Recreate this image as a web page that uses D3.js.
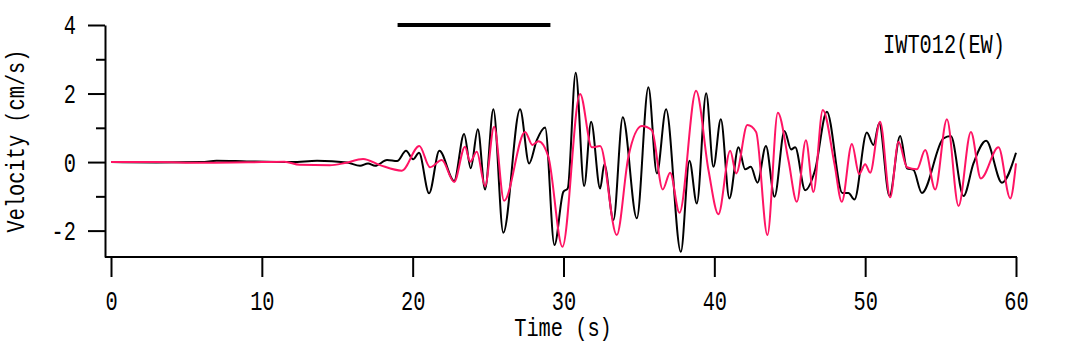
<!DOCTYPE html>
<html>
<head>
<meta charset="utf-8">
<script src="https://cdn.jsdelivr.net/npm/d3@7"></script>
<style>
  body { margin: 0; background: #fff; }
  .lbl { font-family: "Liberation Mono", "DejaVu Sans Mono", monospace; font-size: 28px; fill: #000; }
  .ttl { font-size: 25px; }
</style>
</head>
<body>
<div id="vis"></div>
<script>

// observed velocity (black)
var timeBlack = [0, 3, 6, 7, 9, 12, 13.66, 15.65, 16.51, 17.04, 17.51, 18.3, 18.97, 19.56, 20.03, 20.42, 21.09, 21.77, 22.75, 23.41, 23.85, 24.32, 24.8, 25.35, 26.01, 27.12, 27.72, 28.23, 28.78, 29.4, 29.99, 30.28, 30.81, 31.37, 31.83, 32.43, 32.71, 33.31, 33.93, 34.86, 35.63, 36.19, 36.8, 37.78, 38.35, 38.84, 39.46, 39.94, 40.43, 41.0, 41.6, 42.04, 42.42, 42.86, 43.42, 43.99, 44.65, 45.09, 45.36, 46.02, 46.68, 47.46, 48.49, 48.89, 49.29, 50.11, 50.55, 50.93, 51.61, 52.32, 52.77, 53.2, 53.76, 55.19, 55.68, 56.52, 57.18, 58.02, 59.07, 60];
var valBlack = [0, -0.01, 0.0, 0.04, 0.02, 0.0, 0.04, -0.01, -0.11, -0.04, -0.11, 0.06, 0.03, 0.33, 0.08, 0.27, -0.91, 0.33, -0.55, 0.82, -0.18, 0.96, -0.8, 1.54, -2.06, 1.54, -0.04, 0.64, 1.01, -2.42, -0.87, -0.77, 2.61, -0.7, 1.18, -0.77, -0.06, -1.69, 1.31, -1.64, 2.18, -0.33, 1.54, -2.62, 0.04, -1.21, 2.01, -0.14, 1.25, -1.06, 0.43, -0.21, -0.14, -0.6, 0.47, -1.01, 0.91, 0.37, 0.43, -0.82, -0.23, 1.47, -0.9, -0.9, -1.09, 0.86, 0.5, 1.13, -0.99, 0.76, -0.18, -0.23, -0.9, 0.69, 0.76, -0.99, -0.04, 0.62, -0.6, 0.27];

// synthetic velocity (pink)
var timePink = [0, 3, 6, 10, 11.5, 12.5, 14.5, 15.5, 16.71, 17.84, 19.28, 20.44, 21.15, 21.93, 22.75, 23.47, 23.81, 24.25, 24.8, 25.4, 26.06, 27.45, 27.94, 28.34, 29.0, 29.93, 31.1, 31.88, 32.43, 33.53, 34.3, 35.19, 35.86, 36.58, 37.07, 37.69, 38.79, 39.61, 40.27, 41.05, 41.45, 42.19, 42.77, 43.52, 44.21, 44.91, 45.47, 46.07, 46.57, 47.19, 47.96, 48.45, 49.12, 49.6, 50.0, 50.33, 50.99, 51.66, 52.21, 52.77, 53.43, 53.98, 54.64, 55.42, 56.19, 57.01, 57.67, 58.84, 59.62, 60];
var valPink = [0, 0, -0.02, 0.0, 0.01, -0.08, -0.09, -0.03, 0.09, -0.09, -0.25, 0.47, -0.15, 0.06, -0.58, 0.45, 0.01, 0.3, -0.7, 1.03, -1.13, 0.88, 0.5, 0.61, 0.15, -2.47, 1.99, 0.43, 0.47, -2.13, 0.15, 1.05, 0.93, -0.8, -0.31, -1.48, 2.08, -0.23, -1.52, 0.33, -0.33, 1.08, 0.88, -2.13, 1.44, 0.06, -1.16, 0.64, -0.87, 1.52, -0.04, -1.16, 0.53, -0.35, -0.06, -0.31, 1.18, -1.03, 0.59, -0.15, -0.21, 0.35, -0.8, 1.25, -1.28, 0.88, -0.48, 0.43, -1.06, -0.04];

var xTicks = [0, 10, 20, 30, 40, 50, 60];
var yMajor = [-2, 0, 2, 4];
var yMinor = [-1, 1, 3];
var window_s = [19, 29];   // black bar: analysis window
var stationName = "IWT012(EW)";

var width = 1077;
var height = 344;
var charW = 12.2;

var svg = d3.select("#vis")
    .append("svg")
      .attr("width", width)
      .attr("height", height);

var x = d3.scaleLinear().domain([0, 60]).range([111, 1016]);
var y = d3.scaleLinear().domain([-2.77, 4]).range([257, 25]);
var axisX = 105;   // y axis sits a bit left of t=0

function squeeze(sel, extra) {
  sel.attr("class", "lbl" + (extra ? " " + extra : ""))
     .attr("lengthAdjust", "spacingAndGlyphs")
     .attr("textLength", function() { return this.textContent.length * charW; });
}

// y axis (major + minor)
var gy = svg.append("g")
    .attr("transform", "translate(" + axisX + ",0)")
    .call(d3.axisLeft(y)
      .tickValues(yMajor)
      .tickSize(17)
      .tickSizeOuter(0)
      .tickPadding(12)
      .tickFormat(function(d) { return String(d); }));
gy.selectAll("path, line").attr("stroke", "#000").attr("stroke-width", 2);
gy.selectAll("text").attr("fill", null).attr("font-size", null).call(squeeze);

var gyMinor = svg.append("g")
    .attr("transform", "translate(" + axisX + ",0)")
    .call(d3.axisLeft(y).tickValues(yMinor).tickSize(9).tickFormat(""));
gyMinor.select(".domain").remove();
gyMinor.selectAll("line").attr("stroke", "#000").attr("stroke-width", 2);

// x axis
var gx = svg.append("g")
    .attr("transform", "translate(0," + y.range()[0] + ")")
    .call(d3.axisBottom(x)
      .tickValues(xTicks)
      .tickSize(20)
      .tickSizeOuter(0)
      .tickPadding(13));
gx.select(".domain").attr("d", "M" + axisX + ",0H" + (x.range()[1] + 1));
gx.selectAll("path, line").attr("stroke", "#000").attr("stroke-width", 2);
gx.selectAll("text").attr("fill", null).attr("font-size", null).call(squeeze);

// axis titles
svg.append("text")
    .attr("x", 563)
    .attr("y", 336)
    .attr("text-anchor", "middle")
    .text("Time (s)")
    .call(squeeze, "ttl");

svg.append("text")
    .attr("transform", "translate(24,141) rotate(-90)")
    .attr("text-anchor", "middle")
    .text("Velocity (cm/s)")
    .call(squeeze, "ttl");

svg.append("text")
    .attr("x", 883)
    .attr("y", 53)
    .text(stationName)
    .call(squeeze);

// window bar
svg.append("line")
    .attr("x1", x(window_s[0]))
    .attr("x2", x(window_s[1]) + 2)
    .attr("y1", y(4))
    .attr("y2", y(4))
    .attr("stroke", "#000")
    .attr("stroke-width", 4);

var line = d3.line()
    .curve(d3.curveMonotoneX)
    .x(function(d) { return x(d[0]); })
    .y(function(d) { return y(d[1]); });

svg.append("path")
    .datum(d3.zip(timeBlack, valBlack))
    .attr("fill", "none")
    .attr("stroke", "#000")
    .attr("stroke-width", 2)
    .attr("d", line);

svg.append("path")
    .datum(d3.zip(timePink, valPink))
    .attr("fill", "none")
    .attr("stroke", "#ff1464")
    .attr("stroke-width", 2)
    .attr("d", line);

</script>
</body>
</html>
